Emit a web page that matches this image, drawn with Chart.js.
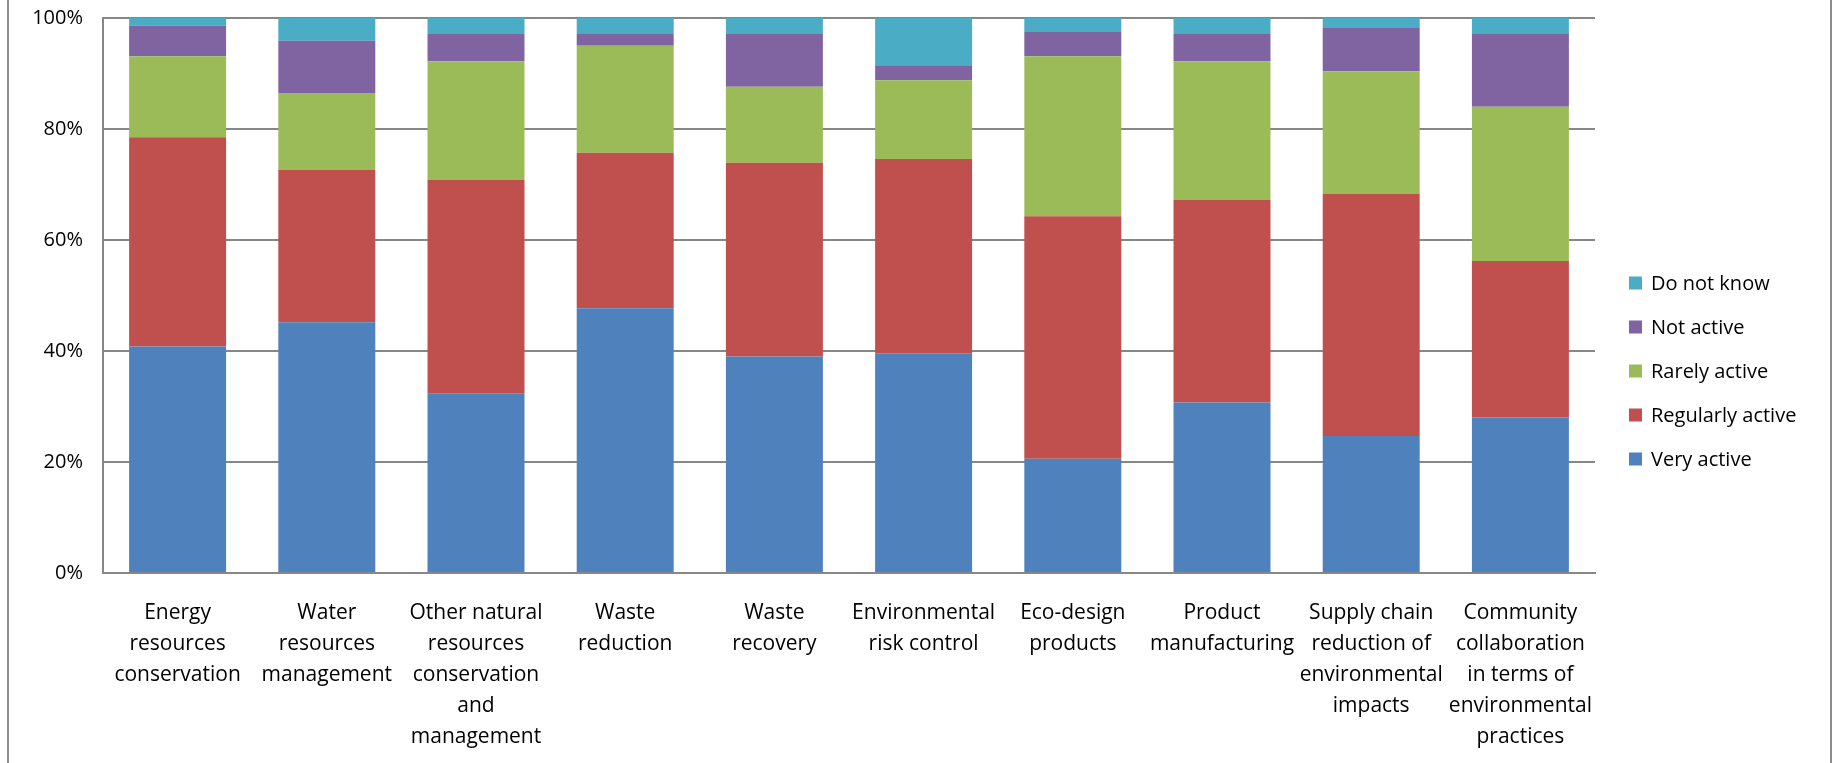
<!DOCTYPE html>
<html>
<head>
<meta charset="utf-8">
<title>Environmental practices activity</title>
<script src="https://cdn.jsdelivr.net/npm/chart.js@4.4.1/dist/chart.umd.min.js"></script>
<style>
  html, body { margin: 0; padding: 0; background: #fff; }
  #wrap { position: relative; width: 1839px; height: 763px; }
  #frame {
    position: absolute; left: 7px; top: 0; width: 1825px; height: 763px;
    border-left: 2px solid #8c8c8c; border-right: 2px solid #8c8c8c;
    box-sizing: border-box; pointer-events: none;
  }
</style>
</head>
<body>
<div id="wrap">
  <canvas id="practicesChart" width="1839" height="763"></canvas>
  <div id="frame"></div>
</div>
<script>
var categories = [
    ['Energy', 'resources', 'conservation'],
    ['Water', 'resources', 'management'],
    ['Other natural', 'resources', 'conservation', 'and', 'management'],
    ['Waste', 'reduction'],
    ['Waste', 'recovery'],
    ['Environmental', 'risk control'],
    ['Eco-design', 'products'],
    ['Product', 'manufacturing'],
    ['Supply chain', 'reduction of', 'environmental', 'impacts'],
    ['Community', 'collaboration', 'in terms of', 'environmental', 'practices']
];

var veryActive      = [40.8, 45.2, 32.3, 47.7, 39.0, 39.6, 20.6, 30.7, 24.7, 28.0];
var regularlyActive = [37.7, 27.4, 38.5, 28.0, 34.9, 35.0, 43.7, 36.5, 43.6, 28.2];
var rarelyActive    = [14.6, 13.9, 21.4, 19.3, 13.7, 14.2, 28.8, 25.0, 22.1, 27.8];
var notActive       = [5.5, 9.4, 4.9, 2.1, 9.5, 2.7, 4.4, 4.9, 7.8, 13.1];
var doNotKnow       = [1.4, 4.1, 2.9, 2.9, 2.9, 8.5, 2.5, 2.9, 1.8, 2.9];

var yTicks = [0, 20, 40, 60, 80, 100];

var fontFamily = "'Open Sans', 'Liberation Sans', sans-serif";
var gridGray = '#878787';

// legend drawn by hand so the plot area keeps its own right edge
var sideLegend = {
    id: 'sideLegend',
    afterDraw: function(chart) {
        var ctx = chart.ctx;
        var sets = chart.data.datasets.slice().reverse();
        var x = 1629, midY = 371, step = 44;
        var top = midY - step * (sets.length - 1) / 2;
        ctx.save();
        ctx.font = '20px ' + fontFamily;
        ctx.textBaseline = 'middle';
        ctx.textAlign = 'left';
        sets.forEach(function(ds, i) {
            var y = top + i * step;
            ctx.fillStyle = ds.backgroundColor;
            ctx.fillRect(x, y - 6.5, 13, 13);
            ctx.fillStyle = '#000';
            ctx.fillText(ds.label, x + 22, y + 1);
        });
        ctx.restore();
    }
};

var ctx = document.getElementById('practicesChart').getContext('2d');

var chart = new Chart(ctx, {
    type: 'bar',
    data: {
        labels: categories,
        datasets: [
            { label: 'Very active', data: veryActive, backgroundColor: '#4F81BD' },
            { label: 'Regularly active', data: regularlyActive, backgroundColor: '#C0504D' },
            { label: 'Rarely active', data: rarelyActive, backgroundColor: '#9BBB59' },
            { label: 'Not active', data: notActive, backgroundColor: '#8064A2' },
            { label: 'Do not know', data: doNotKnow, backgroundColor: '#4BACC6' }
        ]
    },
    options: {
        responsive: false,
        animation: false,
        devicePixelRatio: 1,
        layout: {
            padding: { left: 8, top: 18, right: 244, bottom: 0 }
        },
        datasets: {
            bar: {
                categoryPercentage: 1,
                barPercentage: 0.65,
                borderWidth: 0
            }
        },
        plugins: {
            legend: { display: false },
            title: { display: false },
            tooltip: { enabled: false }
        },
        scales: {
            x: {
                stacked: true,
                grid: { display: false, drawTicks: false },
                border: { display: true, color: gridGray, width: 2 },
                ticks: {
                    color: '#000',
                    padding: 24,
                    maxRotation: 0,
                    autoSkip: false,
                    font: { family: fontFamily, size: 21, lineHeight: 1.48 }
                },
                afterFit: function(scale) { scale.height = 190; }
            },
            y: {
                stacked: true,
                min: 0,
                max: 100,
                afterBuildTicks: function(scale) {
                    scale.ticks = yTicks.map(function(v) { return { value: v }; });
                },
                grid: { color: gridGray, lineWidth: 2, drawTicks: false },
                border: { display: true, color: gridGray, width: 2 },
                ticks: {
                    color: '#000',
                    padding: 20,
                    font: { family: fontFamily, size: 20 },
                    callback: function(v) { return v + '%'; }
                },
                afterFit: function(scale) {
                    scale.width = 95;
                    scale.paddingTop = 0;
                    scale.paddingBottom = 0;
                }
            }
        }
    },
    plugins: [sideLegend]
});
</script>
</body>
</html>
